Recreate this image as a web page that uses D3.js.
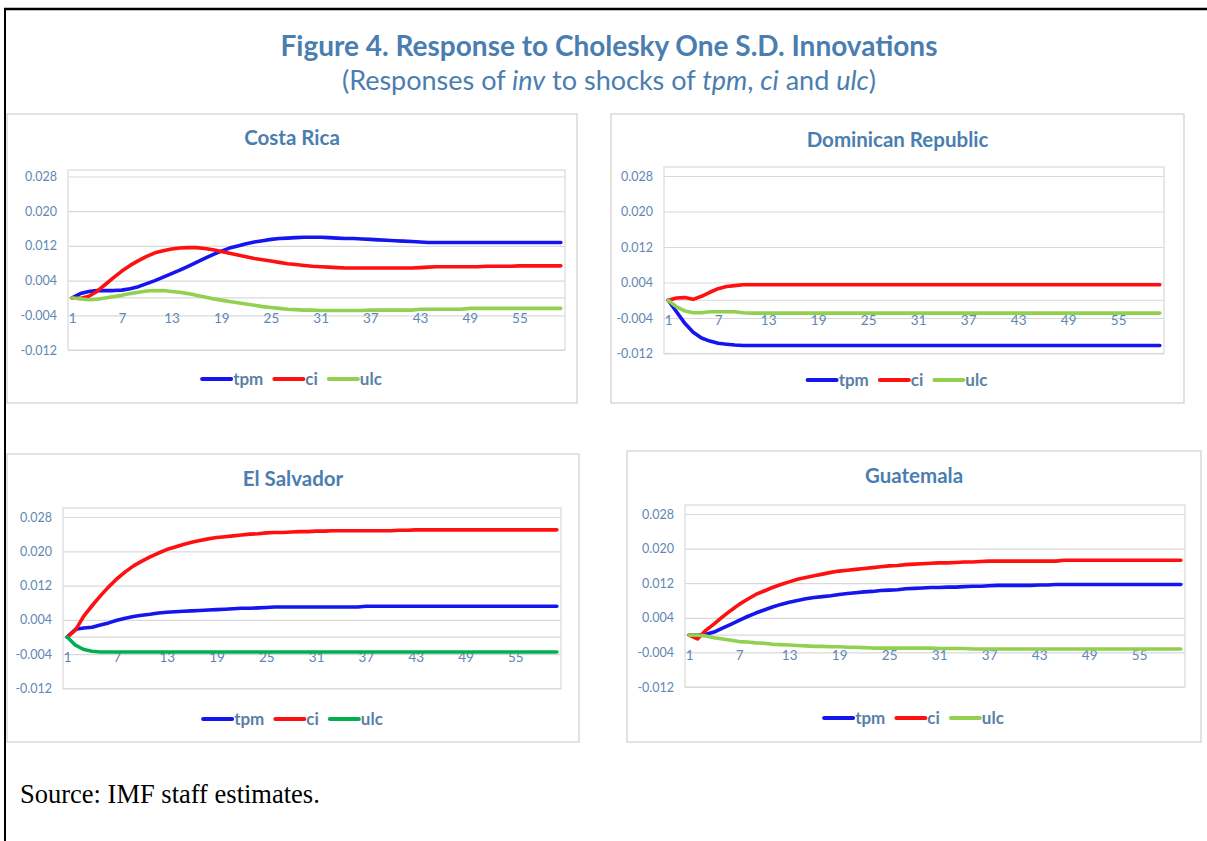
<!DOCTYPE html>
<html>
<head>
<meta charset="utf-8">
<script src="https://cdn.jsdelivr.net/npm/d3@7"></script>
<style>
  html, body { margin: 0; padding: 0; background: #fff; }
  svg { display: block; }
</style>
</head>
<body>
<svg id="fig" width="1207" height="841"></svg>
<script>
// ---- data ---------------------------------------------------------------
const periods = [1,2,3,4,5,6,7,8,9,10,11,12,13,14,15,16,17,18,19,20,
  21,22,23,24,25,26,27,28,29,30,31,32,33,34,35,36,37,38,39,40,
  41,42,43,44,45,46,47,48,49,50,51,52,53,54,55,56,57,58,59,60];
const xTickValues = [1,7,13,19,25,31,37,43,49,55];
const yTickValues = [0.028, 0.020, 0.012, 0.004, -0.004, -0.012];
const seriesNames = ["tpm", "ci", "ulc"];
const countries = ["Costa Rica", "Dominican Republic", "El Salvador", "Guatemala"];

// Costa Rica
const crTpm = [0, 0.0010, 0.0015, 0.0017, 0.0017, 0.0017, 0.0018, 0.0021, 0.0026, 0.0033,
  0.0040, 0.0048, 0.0056, 0.0064, 0.0073, 0.0082, 0.0091, 0.0100, 0.0108, 0.0115,
  0.0120, 0.0125, 0.0129, 0.0132, 0.0135, 0.0137, 0.0138, 0.0139, 0.0140, 0.0140,
  0.0140, 0.0139, 0.0138, 0.0137, 0.0137, 0.0136, 0.0135, 0.0134, 0.0133, 0.0132,
  0.0131, 0.0130, 0.0129, 0.0128, 0.0128, 0.0128, 0.0128, 0.0128, 0.0128, 0.0128,
  0.0128, 0.0128, 0.0128, 0.0128, 0.0128, 0.0128, 0.0128, 0.0128, 0.0128, 0.0128];
const crCi = [0, -0.0001, 0.0004, 0.0015, 0.0031, 0.0047, 0.0062, 0.0075, 0.0086, 0.0096,
  0.0104, 0.0109, 0.0113, 0.0115, 0.0116, 0.0116, 0.0114, 0.0111, 0.0107, 0.0103,
  0.0099, 0.0095, 0.0091, 0.0088, 0.0085, 0.0082, 0.0079, 0.0077, 0.0075, 0.0073,
  0.0072, 0.0071, 0.0070, 0.0069, 0.0069, 0.0069, 0.0069, 0.0069, 0.0069, 0.0069,
  0.0069, 0.0069, 0.0070, 0.0071, 0.0072, 0.0072, 0.0072, 0.0072, 0.0072, 0.0072,
  0.0073, 0.0073, 0.0073, 0.0073, 0.0074, 0.0074, 0.0074, 0.0074, 0.0074, 0.0074];
const crUlc = [0, -0.0002, -0.0004, -0.0003, 0.0000, 0.0003, 0.0006, 0.0010, 0.0013, 0.0016,
  0.0017, 0.0017, 0.0015, 0.0013, 0.0010, 0.0006, 0.0002, -0.0002, -0.0005, -0.0008,
  -0.0011, -0.0014, -0.0017, -0.0020, -0.0022, -0.0024, -0.0026, -0.0027, -0.0028, -0.0028,
  -0.0029, -0.0029, -0.0029, -0.0029, -0.0029, -0.0029, -0.0028, -0.0028, -0.0028, -0.0028,
  -0.0028, -0.0028, -0.0026, -0.0026, -0.0026, -0.0026, -0.0026, -0.0026, -0.0024, -0.0024,
  -0.0024, -0.0024, -0.0024, -0.0024, -0.0024, -0.0024, -0.0024, -0.0024, -0.0024, -0.0024];

// Dominican Republic
const drTpm = [0, -0.0026, -0.0052, -0.0072, -0.0085, -0.0092, -0.0097, -0.0099, -0.0101, -0.0102,
  -0.0102, -0.0102, -0.0102, -0.0102, -0.0102, -0.0102, -0.0102, -0.0102, -0.0102, -0.0102,
  -0.0102, -0.0102, -0.0102, -0.0102, -0.0102, -0.0102, -0.0102, -0.0102, -0.0102, -0.0102,
  -0.0102, -0.0102, -0.0102, -0.0102, -0.0102, -0.0102, -0.0102, -0.0102, -0.0102, -0.0102,
  -0.0102, -0.0102, -0.0102, -0.0102, -0.0102, -0.0102, -0.0102, -0.0102, -0.0102, -0.0102,
  -0.0102, -0.0102, -0.0102, -0.0102, -0.0102, -0.0102, -0.0102, -0.0102, -0.0102, -0.0102];
const drCi = [0, 0.0005, 0.0006, 0.0002, 0.0009, 0.0018, 0.0026, 0.0031, 0.0033, 0.0035,
  0.0035, 0.0035, 0.0035, 0.0035, 0.0035, 0.0035, 0.0035, 0.0035, 0.0035, 0.0035,
  0.0035, 0.0035, 0.0035, 0.0035, 0.0035, 0.0035, 0.0035, 0.0035, 0.0035, 0.0035,
  0.0035, 0.0035, 0.0035, 0.0035, 0.0035, 0.0035, 0.0035, 0.0035, 0.0035, 0.0035,
  0.0035, 0.0035, 0.0035, 0.0035, 0.0035, 0.0035, 0.0035, 0.0035, 0.0035, 0.0035,
  0.0035, 0.0035, 0.0035, 0.0035, 0.0035, 0.0035, 0.0035, 0.0035, 0.0035, 0.0035];
const drUlc = [0, -0.0015, -0.0024, -0.0028, -0.0028, -0.0026, -0.0026, -0.0026, -0.0026, -0.0028,
  -0.0029, -0.0029, -0.0029, -0.0029, -0.0029, -0.0029, -0.0029, -0.0029, -0.0029, -0.0029,
  -0.0029, -0.0029, -0.0029, -0.0029, -0.0029, -0.0029, -0.0029, -0.0029, -0.0029, -0.0029,
  -0.0029, -0.0029, -0.0029, -0.0029, -0.0029, -0.0029, -0.0029, -0.0029, -0.0029, -0.0029,
  -0.0029, -0.0029, -0.0029, -0.0029, -0.0029, -0.0029, -0.0029, -0.0029, -0.0029, -0.0029,
  -0.0029, -0.0029, -0.0029, -0.0029, -0.0029, -0.0029, -0.0029, -0.0029, -0.0029, -0.0029];

// El Salvador
const esTpm = [0, 0.0018, 0.0021, 0.0023, 0.0028, 0.0033, 0.0039, 0.0044, 0.0048, 0.0051,
  0.0053, 0.0056, 0.0058, 0.0059, 0.0060, 0.0061, 0.0062, 0.0063, 0.0064, 0.0065,
  0.0066, 0.0067, 0.0067, 0.0068, 0.0069, 0.0070, 0.0070, 0.0070, 0.0070, 0.0070,
  0.0070, 0.0070, 0.0070, 0.0070, 0.0070, 0.0070, 0.0072, 0.0072, 0.0072, 0.0072,
  0.0072, 0.0072, 0.0072, 0.0072, 0.0072, 0.0072, 0.0072, 0.0072, 0.0072, 0.0072,
  0.0072, 0.0072, 0.0072, 0.0072, 0.0072, 0.0072, 0.0072, 0.0072, 0.0072, 0.0072];
const esCi = [0, 0.0016, 0.0049, 0.0073, 0.0096, 0.0117, 0.0136, 0.0152, 0.0166, 0.0177,
  0.0187, 0.0196, 0.0204, 0.0210, 0.0216, 0.0221, 0.0225, 0.0229, 0.0232, 0.0234,
  0.0236, 0.0238, 0.0240, 0.0241, 0.0243, 0.0244, 0.0244, 0.0245, 0.0246, 0.0246,
  0.0247, 0.0247, 0.0248, 0.0248, 0.0248, 0.0248, 0.0248, 0.0248, 0.0248, 0.0248,
  0.0249, 0.0249, 0.0250, 0.0250, 0.0250, 0.0250, 0.0250, 0.0250, 0.0250, 0.0250,
  0.0250, 0.0250, 0.0250, 0.0250, 0.0250, 0.0250, 0.0250, 0.0250, 0.0250, 0.0250];
const esUlc = [0, -0.0019, -0.0029, -0.0033, -0.0035, -0.0035, -0.0035, -0.0035, -0.0035, -0.0035,
  -0.0035, -0.0035, -0.0035, -0.0035, -0.0035, -0.0035, -0.0035, -0.0035, -0.0035, -0.0035,
  -0.0035, -0.0035, -0.0035, -0.0035, -0.0035, -0.0035, -0.0035, -0.0035, -0.0035, -0.0035,
  -0.0035, -0.0035, -0.0035, -0.0035, -0.0035, -0.0035, -0.0035, -0.0035, -0.0035, -0.0035,
  -0.0035, -0.0035, -0.0035, -0.0035, -0.0035, -0.0035, -0.0035, -0.0035, -0.0035, -0.0035,
  -0.0035, -0.0035, -0.0035, -0.0035, -0.0035, -0.0035, -0.0035, -0.0035, -0.0035, -0.0035];

// Guatemala
const guTpm = [0, 0.0000, 0.0002, 0.0007, 0.0016, 0.0025, 0.0034, 0.0043, 0.0051, 0.0058,
  0.0065, 0.0071, 0.0076, 0.0080, 0.0084, 0.0087, 0.0089, 0.0091, 0.0094, 0.0096,
  0.0098, 0.0100, 0.0101, 0.0103, 0.0104, 0.0105, 0.0107, 0.0108, 0.0109, 0.0110,
  0.0110, 0.0111, 0.0111, 0.0112, 0.0113, 0.0113, 0.0114, 0.0115, 0.0115, 0.0115,
  0.0115, 0.0115, 0.0116, 0.0116, 0.0117, 0.0117, 0.0117, 0.0117, 0.0117, 0.0117,
  0.0117, 0.0117, 0.0117, 0.0117, 0.0117, 0.0117, 0.0117, 0.0117, 0.0117, 0.0117];
const guCi = [0, -0.0009, 0.0011, 0.0026, 0.0042, 0.0057, 0.0071, 0.0083, 0.0094, 0.0102,
  0.0110, 0.0117, 0.0123, 0.0129, 0.0133, 0.0137, 0.0141, 0.0145, 0.0148, 0.0150,
  0.0152, 0.0154, 0.0156, 0.0158, 0.0160, 0.0161, 0.0163, 0.0164, 0.0165, 0.0166,
  0.0167, 0.0167, 0.0168, 0.0169, 0.0169, 0.0170, 0.0171, 0.0171, 0.0171, 0.0171,
  0.0171, 0.0171, 0.0171, 0.0171, 0.0171, 0.0173, 0.0173, 0.0173, 0.0173, 0.0173,
  0.0173, 0.0173, 0.0173, 0.0173, 0.0173, 0.0173, 0.0173, 0.0173, 0.0173, 0.0173];
const guUlc = [0, 0.0000, -0.0002, -0.0006, -0.0009, -0.0012, -0.0015, -0.0016, -0.0018, -0.0019,
  -0.0021, -0.0022, -0.0023, -0.0024, -0.0025, -0.0026, -0.0026, -0.0027, -0.0027, -0.0028,
  -0.0028, -0.0029, -0.0030, -0.0030, -0.0030, -0.0030, -0.0030, -0.0030, -0.0030, -0.0030,
  -0.0031, -0.0031, -0.0031, -0.0031, -0.0032, -0.0032, -0.0032, -0.0032, -0.0032, -0.0032,
  -0.0032, -0.0032, -0.0032, -0.0032, -0.0032, -0.0032, -0.0032, -0.0032, -0.0032, -0.0032,
  -0.0032, -0.0032, -0.0032, -0.0032, -0.0032, -0.0032, -0.0032, -0.0032, -0.0032, -0.0032];

const countrySeries = [
  [crTpm, crCi, crUlc],
  [drTpm, drCi, drUlc],
  [esTpm, esCi, esUlc],
  [guTpm, guCi, guUlc]
];

// ---- styling & layout ---------------------------------------------------
const BLUE = "#1515f0", RED = "#ff1010", LIGHT_GREEN = "#92d050", DARK_GREEN = "#00b050";
const seriesColors = [
  [BLUE, RED, LIGHT_GREEN],
  [BLUE, RED, LIGHT_GREEN],
  [BLUE, RED, DARK_GREEN],
  [BLUE, RED, LIGHT_GREEN]
];
const TITLE_COL = "#4a7eb0";
const LABEL_COL = "#5f87b3";
const GRID_COL = "#d9d9d9";
const FONT = "Lato, 'Open Sans', sans-serif";

// panel frames and plot areas (pixels)
const layout = [
  { box: [7, 114, 570, 289],  plot: [68, 565, 176.5, 350, 170],  titleY: 138, legendY: 379 },
  { box: [611, 114, 573, 289], plot: [664, 1164, 176, 353.5, 167], titleY: 140, legendY: 380 },
  { box: [7, 454, 572, 288],  plot: [63, 561, 517, 688.5, 508],  titleY: 479, legendY: 719 },
  { box: [627, 451, 574, 291], plot: [685, 1185, 514, 687, 505],  titleY: 476, legendY: 718 }
];

const svg = d3.select("#fig");

// page frame (top and left rules)
svg.append("line").attr("x1", 4).attr("x2", 1207).attr("y1", 9).attr("y2", 9)
  .attr("stroke", "#000").attr("stroke-width", 2.5);
svg.append("line").attr("x1", 5).attr("x2", 5).attr("y1", 8).attr("y2", 841)
  .attr("stroke", "#000").attr("stroke-width", 2);

// figure heading
svg.append("text").attr("x", 609).attr("y", 56).attr("text-anchor", "middle")
  .attr("font-family", FONT).attr("font-weight", 700).attr("font-size", 28)
  .attr("fill", TITLE_COL).text("Figure 4. Response to Cholesky One S.D. Innovations");

const sub = svg.append("text").attr("x", 609).attr("y", 90).attr("text-anchor", "middle")
  .attr("font-family", FONT).attr("font-size", 27).attr("fill", TITLE_COL);
[["(Responses of ", false], ["inv", true], [" to shocks of ", false], ["tpm", true],
 [", ", false], ["ci", true], [" and ", false], ["ulc", true], [")", false]]
  .forEach(([t, it]) => sub.append("tspan").attr("font-style", it ? "italic" : "normal").text(t));

// ---- panels -------------------------------------------------------------
const fmt = d => d.toFixed(3);

countries.forEach((name, i) => {
  const L = layout[i];
  const [bx, by, bw, bh] = L.box;
  const [pl, pr, pt, pb, boxTop] = L.plot;
  const cx = bx + bw / 2;
  const g = svg.append("g");

  g.append("rect").attr("x", bx).attr("y", by).attr("width", bw).attr("height", bh)
    .attr("fill", "#fff").attr("stroke", GRID_COL).attr("stroke-width", 1.5);

  g.append("text").attr("x", cx).attr("y", L.titleY + 7).attr("text-anchor", "middle")
    .attr("font-family", FONT).attr("font-weight", 700).attr("font-size", 20.5)
    .attr("fill", TITLE_COL).text(name);

  const x = d3.scalePoint().domain(periods).range([pl, pr]).padding(0.5);
  const y = d3.scaleLinear().domain([-0.012, 0.028]).range([pb, pt]);

  // plot area outline
  g.append("rect").attr("x", pl).attr("y", boxTop).attr("width", pr - pl).attr("height", pb - boxTop)
    .attr("fill", "none").attr("stroke", GRID_COL).attr("stroke-width", 1.2);

  // value axis with gridlines
  const yAxis = g.append("g").attr("transform", `translate(${pl},0)`)
    .call(d3.axisLeft(y).tickValues(yTickValues).tickFormat(fmt).tickSize(-(pr - pl)).tickPadding(11));
  yAxis.select(".domain").remove();
  yAxis.selectAll(".tick line").attr("stroke", GRID_COL).attr("stroke-width", 1.2);
  yAxis.selectAll(".tick text").attr("font-family", FONT).attr("font-size", 12.5)
    .attr("fill", LABEL_COL);

  // category axis crossing at zero
  const xAxis = g.append("g").attr("transform", `translate(0,${y(0)})`)
    .call(d3.axisBottom(x).tickValues(xTickValues).tickSize(0).tickPadding(15));
  xAxis.select(".domain").attr("stroke", GRID_COL).attr("stroke-width", 1.2)
    .attr("d", `M${pl},0H${pr}`);
  xAxis.selectAll(".tick text").attr("font-family", FONT).attr("font-size", 13.5)
    .attr("fill", LABEL_COL);

  // response lines
  const line = d3.line().x((d, k) => x(periods[k])).y(d => y(d));
  countrySeries[i].forEach((vals, s) => {
    g.append("path").datum(vals).attr("d", line).attr("fill", "none")
      .attr("stroke", seriesColors[i][s]).attr("stroke-width", 3.6)
      .attr("stroke-linejoin", "round").attr("stroke-linecap", "round");
  });

  // legend
  const leg = g.append("g");
  let lx = 0;
  seriesNames.forEach((sn, s) => {
    leg.append("line").attr("x1", lx).attr("x2", lx + 29).attr("y1", 0).attr("y2", 0)
      .attr("stroke", seriesColors[i][s]).attr("stroke-width", 4).attr("stroke-linecap", "round");
    const t = leg.append("text").attr("x", lx + 31).attr("y", 6)
      .attr("font-family", FONT).attr("font-weight", 700).attr("font-size", 17)
      .attr("fill", "#5a7fa7").text(sn);
    lx += 31 + t.node().getComputedTextLength() + 11;
  });
  const lw = lx - 11;
  leg.attr("transform", `translate(${cx - lw / 2},${L.legendY})`);
});

// source note
svg.append("text").attr("x", 20).attr("y", 803)
  .attr("font-family", "'Liberation Serif', 'Times New Roman', serif").attr("font-size", 26.5)
  .attr("fill", "#000").text("Source: IMF staff estimates.");
</script>
</body>
</html>
